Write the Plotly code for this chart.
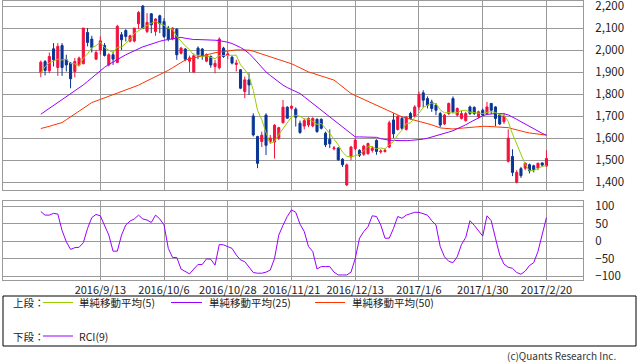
import plotly.graph_objects as go

dates = [
    "2016/8/24", "2016/8/25", "2016/8/26", "2016/8/29", "2016/8/30", "2016/8/31", "2016/9/1", "2016/9/2", "2016/9/5", "2016/9/6",
    "2016/9/7", "2016/9/8", "2016/9/9", "2016/9/12", "2016/9/13", "2016/9/14", "2016/9/15", "2016/9/16", "2016/9/20", "2016/9/21",
    "2016/9/23", "2016/9/26", "2016/9/27", "2016/9/28", "2016/9/29", "2016/9/30", "2016/10/3", "2016/10/4", "2016/10/5", "2016/10/6",
    "2016/10/7", "2016/10/11", "2016/10/12", "2016/10/13", "2016/10/14", "2016/10/17", "2016/10/18", "2016/10/19", "2016/10/20", "2016/10/21",
    "2016/10/24", "2016/10/25", "2016/10/26", "2016/10/27", "2016/10/28", "2016/10/31", "2016/11/1", "2016/11/2", "2016/11/4", "2016/11/7",
    "2016/11/8", "2016/11/9", "2016/11/10", "2016/11/11", "2016/11/14", "2016/11/15", "2016/11/16", "2016/11/17", "2016/11/18", "2016/11/21",
    "2016/11/22", "2016/11/24", "2016/11/25", "2016/11/28", "2016/11/29", "2016/11/30", "2016/12/1", "2016/12/2", "2016/12/5", "2016/12/6",
    "2016/12/7", "2016/12/8", "2016/12/9", "2016/12/12", "2016/12/13", "2016/12/14", "2016/12/15", "2016/12/16", "2016/12/19", "2016/12/20",
    "2016/12/21", "2016/12/22", "2016/12/26", "2016/12/27", "2016/12/28", "2016/12/29", "2016/12/30", "2017/1/4", "2017/1/5", "2017/1/6",
    "2017/1/10", "2017/1/11", "2017/1/12", "2017/1/13", "2017/1/16", "2017/1/17", "2017/1/18", "2017/1/19", "2017/1/20", "2017/1/23",
    "2017/1/24", "2017/1/25", "2017/1/26", "2017/1/27", "2017/1/30", "2017/1/31", "2017/2/1", "2017/2/2", "2017/2/3", "2017/2/6",
    "2017/2/7", "2017/2/8", "2017/2/9", "2017/2/10", "2017/2/13", "2017/2/14", "2017/2/15", "2017/2/16", "2017/2/17", "2017/2/20",
]

opens = [
    1898, 1948, 1906, 2006, 1921, 2021, 1956, 1941, 1903, 1933,
    1938, 2080, 2050, 1959, 2001, 2021, 1933, 1979, 1944, 2070,
    2089, 2041, 2041, 2120, 2200, 2085, 2165, 2085, 2156, 2130,
    2100, 2050, 2095, 1986, 2005, 1950, 1900, 2009, 2005, 1950,
    1971, 1926, 1920, 2009, 1976, 1968, 1935, 1911, 1812, 1865,
    1701, 1608, 1585, 1705, 1585, 1583, 1600, 1670, 1741, 1736,
    1732, 1668, 1655, 1660, 1656, 1686, 1686, 1623, 1595, 1552,
    1555, 1505, 1388, 1515, 1553, 1545, 1527, 1530, 1545, 1590,
    1538, 1540, 1560, 1683, 1640, 1690, 1640, 1712, 1700, 1742,
    1806, 1780, 1765, 1750, 1712, 1665, 1712, 1780, 1705, 1690,
    1680, 1742, 1740, 1697, 1727, 1712, 1758, 1742, 1705, 1675,
    1495, 1517, 1400, 1462, 1464, 1480, 1475, 1465, 1488, 1474,
]
highs = [
    1953, 1955, 1989, 2032, 2032, 2032, 1979, 1945, 1964, 1971,
    2100, 2100, 2065, 2001, 2062, 2032, 1986, 1994, 2115, 2082,
    2095, 2070, 2100, 2177, 2205, 2168, 2168, 2145, 2161, 2145,
    2110, 2103, 2100, 2015, 2009, 1975, 1985, 2017, 2009, 1985,
    1976, 1956, 2058, 2015, 1995, 1973, 1956, 1914, 1880, 1895,
    1713, 1611, 1630, 1713, 1615, 1664, 1652, 1774, 1745, 1750,
    1740, 1680, 1690, 1695, 1695, 1690, 1690, 1630, 1640, 1565,
    1560, 1510, 1485, 1565, 1600, 1550, 1570, 1580, 1565, 1595,
    1550, 1552, 1680, 1713, 1705, 1700, 1700, 1720, 1750, 1812,
    1818, 1790, 1775, 1760, 1720, 1710, 1762, 1790, 1740, 1725,
    1720, 1748, 1745, 1725, 1735, 1765, 1760, 1745, 1710, 1715,
    1640, 1550, 1455, 1470, 1490, 1485, 1480, 1490, 1490, 1545,
]
lows = [
    1877, 1885, 1895, 1926, 1883, 1883, 1903, 1827, 1877, 1926,
    1936, 2017, 1989, 1956, 1980, 1971, 1926, 1933, 1941, 2001,
    2039, 2035, 2035, 2095, 2095, 2077, 2077, 2065, 2077, 2055,
    2040, 2045, 1956, 1980, 1950, 1900, 1900, 1959, 1956, 1945,
    1920, 1895, 1912, 1965, 1960, 1935, 1903, 1823, 1782, 1797,
    1608, 1464, 1560, 1524, 1575, 1508, 1592, 1668, 1690, 1730,
    1653, 1620, 1640, 1650, 1650, 1625, 1640, 1560, 1555, 1545,
    1498, 1470, 1383, 1500, 1545, 1515, 1520, 1525, 1535, 1525,
    1530, 1535, 1555, 1600, 1635, 1638, 1635, 1685, 1695, 1727,
    1740, 1735, 1720, 1705, 1650, 1660, 1705, 1715, 1700, 1685,
    1675, 1705, 1705, 1690, 1700, 1705, 1710, 1655, 1660, 1665,
    1490, 1428, 1395, 1420, 1455, 1440, 1445, 1455, 1470, 1470,
]
closes = [
    1945, 1908, 1971, 1956, 2017, 1921, 1933, 1870, 1948, 1964,
    2100, 2035, 2012, 1989, 2042, 1976, 1979, 1959, 2108, 2047,
    2062, 2065, 2100, 2171, 2100, 2126, 2115, 2141, 2120, 2062,
    2050, 2100, 1979, 2009, 1959, 1965, 1975, 1979, 1971, 1980,
    1933, 1940, 2050, 1971, 1983, 1941, 1941, 1827, 1865, 1842,
    1615, 1486, 1614, 1568, 1600, 1659, 1648, 1741, 1691, 1745,
    1695, 1626, 1680, 1690, 1690, 1630, 1645, 1570, 1575, 1556,
    1502, 1480, 1479, 1560, 1591, 1523, 1564, 1576, 1555, 1540,
    1542, 1545, 1670, 1620, 1698, 1645, 1695, 1690, 1742, 1799,
    1773, 1750, 1735, 1727, 1660, 1705, 1758, 1720, 1735, 1712,
    1712, 1712, 1712, 1720, 1705, 1742, 1727, 1690, 1665, 1700,
    1600, 1445, 1445, 1430, 1487, 1452, 1458, 1486, 1478, 1508,
]

ma5 = [
    1897, 1925, 1942, 1950, 1959, 1955, 1960, 1939, 1938, 1927,
    1963, 1983, 2012, 2020, 2036, 2011, 2000, 1989, 2013, 2014,
    2031, 2048, 2076, 2089, 2100, 2112, 2122, 2131, 2120, 2113,
    2098, 2095, 2062, 2040, 2019, 2002, 1977, 1977, 1970, 1974,
    1968, 1961, 1975, 1975, 1975, 1977, 1977, 1933, 1911, 1883,
    1818, 1727, 1684, 1625, 1577, 1585, 1618, 1643, 1668, 1697,
    1704, 1700, 1687, 1687, 1676, 1663, 1667, 1645, 1622, 1595,
    1570, 1537, 1518, 1515, 1522, 1527, 1543, 1563, 1562, 1552,
    1556, 1552, 1571, 1584, 1616, 1636, 1666, 1670, 1694, 1714,
    1740, 1751, 1760, 1757, 1729, 1715, 1717, 1714, 1716, 1726,
    1727, 1718, 1717, 1714, 1712, 1718, 1721, 1717, 1706, 1705,
    1676, 1620, 1571, 1524, 1481, 1452, 1454, 1463, 1472, 1476,
]
ma25 = [
    1709, 1722, 1735, 1748, 1760, 1773, 1788, 1800, 1812, 1826,
    1842, 1858, 1875, 1892, 1909, 1922, 1935, 1947, 1958, 1970,
    1979, 1988, 1997, 2008, 2015, 2021, 2028, 2035, 2040, 2045,
    2049, 2053, 2056, 2058, 2054, 2050, 2048, 2048, 2048, 2047,
    2046, 2045, 2043, 2040, 2036, 2030, 2022, 2012, 2000, 1985,
    1965, 1944, 1922, 1901, 1885, 1870, 1855, 1841, 1830, 1820,
    1811, 1803, 1788, 1773, 1757, 1742, 1727, 1712, 1697, 1682,
    1667, 1652, 1636, 1621, 1606, 1606, 1606, 1606, 1606, 1604,
    1598, 1593, 1591, 1590, 1589, 1589, 1589, 1590, 1591, 1593,
    1596, 1600, 1605, 1610, 1616, 1622, 1628, 1634, 1642, 1651,
    1661, 1672, 1683, 1693, 1702, 1708, 1711, 1712, 1712, 1711,
    1706, 1697, 1686, 1675, 1664, 1653, 1642, 1632, 1622, 1614,
]
ma50 = [
    1644, 1648, 1654, 1660, 1665, 1671, 1684, 1697, 1710, 1723,
    1736, 1749, 1762, 1769, 1776, 1784, 1792, 1800, 1807, 1814,
    1821, 1826, 1832, 1841, 1851, 1860, 1869, 1878, 1887, 1896,
    1908, 1920, 1932, 1944, 1955, 1960, 1965, 1970, 1975, 1980,
    1985, 1988, 1991, 1994, 1997, 2000, 2001, 2001, 2000, 2000,
    1995, 1989, 1983, 1977, 1971, 1965, 1959, 1953, 1947, 1938,
    1929, 1919, 1910, 1901, 1895, 1889, 1882, 1876, 1870, 1864,
    1849, 1834, 1818, 1803, 1794, 1785, 1776, 1767, 1758, 1749,
    1740, 1730, 1721, 1712, 1704, 1697, 1692, 1687, 1683, 1679,
    1674, 1668, 1661, 1654, 1647, 1645, 1643, 1642, 1644, 1646,
    1648, 1650, 1652, 1653, 1654, 1654, 1653, 1653, 1652, 1651,
    1648, 1643, 1637, 1632, 1628, 1624, 1621, 1618, 1616, 1614,
]
rci9 = [
    84, 74, 74, 79, 77, 30, -2, -24, -19, -18,
    -5, 36, 67, 76, 72, 46, 17, -29, -29, 17,
    46, 57, 63, 74, 63, 60, 53, 74, 63, 46,
    -21, -47, -47, -80, -86, -94, -80, -67, -67, -51,
    -52, -69, -10, -11, -16, -21, -40, -54, -59, -76,
    -90, -92, -92, -89, -83, -50, 17, 45, 70, 89,
    82, 48, 27, -16, -30, -80, -73, -73, -73, -89,
    -97, -97, -97, -89, -50, 8, 27, 41, 72, 70,
    46, 8, 8, 36, 70, 65, 74, 78, 82, 82,
    79, 74, 58, 46, -16, -45, -58, -62, -45, -10,
    10, 58, 45, 28, 14, 72, 58, 8, -40, -66,
    -75, -78, -90, -95, -86, -70, -62, -30, 17, 67,
]

tick_labels = ["2016/9/13", "2016/10/6", "2016/10/28", "2016/11/21",
               "2016/12/13", "2017/1/6", "2017/1/30", "2017/2/20"]
price_ticks = [1400, 1500, 1600, 1700, 1800, 1900, 2000, 2100, 2200]
rci_ticks = [-100, -50, 0, 50, 100]

RED = "#f5103c"
BLUE = "#0a3596"
C_MA5 = "#99cc00"
C_MA25 = "#9900ff"
C_MA50 = "#ff3300"
C_RCI = "#9900ff"
GRID = "#9a9a9a"
FONT = "Noto Sans CJK JP"

W, H = 638, 362
ML, MR, MT, MB = 3, 55, 1, 82
PW = W - ML - MR
PH = H - MT - MB


def px(x):
    return (x - ML) / PW


def py(y):
    return (H - MB - y) / PH


fig = go.Figure()
fig.add_trace(go.Candlestick(
    x=dates, open=opens, high=highs, low=lows, close=closes,
    xaxis="x", yaxis="y", whiskerwidth=0,
    increasing=dict(line=dict(color=RED, width=1), fillcolor=RED),
    decreasing=dict(line=dict(color=BLUE, width=1), fillcolor=BLUE),
    showlegend=False,
))
for vals, col in [(ma50, C_MA50), (ma25, C_MA25), (ma5, C_MA5)]:
    fig.add_trace(go.Scatter(x=dates, y=vals, mode="lines", xaxis="x", yaxis="y",
                             line=dict(color=col, width=1), showlegend=False))
fig.add_trace(go.Scatter(x=dates, y=rci9, mode="lines", xaxis="x2", yaxis="y2",
                         line=dict(color=C_RCI, width=1), showlegend=False))

xcommon = dict(type="category", categoryorder="array", categoryarray=dates,
               range=[-8.9, 127.6], tickmode="array", tickvals=tick_labels,
               ticktext=tick_labels, showgrid=True, gridcolor=GRID, gridwidth=1,
               showline=True, mirror=True, linecolor=GRID, linewidth=1,
               ticks="", zeroline=False, tickangle=0, automargin=False)
ycommon = dict(side="right", tickmode="array", showgrid=True, gridcolor=GRID,
               gridwidth=1, showline=True, mirror=True, linecolor=GRID,
               linewidth=1, ticks="", ticklabelstandoff=9, zeroline=False,
               automargin=False, ticklabeloverflow="allow",
               tickfont=dict(size=11.5))

fig.update_layout(
    width=W, height=H,
    margin=dict(l=ML, r=MR, t=MT, b=MB, autoexpand=False),
    paper_bgcolor="white", plot_bgcolor="white",
    font=dict(family=FONT, size=12, color="#222222"),
    showlegend=False,
    xaxis=dict(**xcommon, domain=[0, 1], anchor="y", showticklabels=False,
               rangeslider=dict(visible=False)),
    yaxis=dict(**ycommon, domain=[py(190), 1], anchor="x",
               range=[1365, 2223], tickvals=price_ticks, tickformat=",d"),
    xaxis2=dict(**xcommon, domain=[0, 1], anchor="y2", showticklabels=True,
                tickfont=dict(size=11)),
    yaxis2=dict(**ycommon, domain=[0, py(201)], anchor="x2",
                range=[-111.4, 114.3], tickvals=rci_ticks),
)

shapes = [dict(type="rect", xref="paper", yref="paper",
               x0=px(3), x1=px(636), y0=py(346), y1=py(296),
               line=dict(color="black", width=1), fillcolor="rgba(0,0,0,0)")]
annotations = []
rows = [
    (302.5, "上段：", [(C_MA5, 43, 73, 77, "単純移動平均(5)"),
                    (C_MA25, 171, 202, 207, "単純移動平均(25)"),
                    (C_MA50, 315, 345, 350, "単純移動平均(50)")]),
    (336, "下段：", [(C_RCI, 43, 73, 77, "RCI(9)")]),
]
for yy, head, items in rows:
    annotations.append(dict(x=px(11), y=py(yy), xref="paper", yref="paper",
                            text=head, showarrow=False, xanchor="left",
                            yanchor="middle", font=dict(size=10.5, color="#222")))
    for col, lx0, lx1, tx, txt in items:
        shapes.append(dict(type="line", xref="paper", yref="paper",
                           x0=px(lx0), x1=px(lx1), y0=py(yy), y1=py(yy),
                           line=dict(color=col, width=1)))
        annotations.append(dict(x=px(tx), y=py(yy), xref="paper", yref="paper",
                                text=txt, showarrow=False, xanchor="left",
                                yanchor="middle", font=dict(size=10.5, color="#222")))
annotations.append(dict(x=px(618), y=py(355), xref="paper", yref="paper",
                        text="(c)Quants Research Inc.", showarrow=False,
                        xanchor="right", yanchor="middle",
                        font=dict(size=10, color="#333")))
fig.update_layout(shapes=shapes, annotations=annotations)

fig.write_html("out.html", config={"displayModeBar": False},
               post_script="document.body.style.margin='0';document.body.style.overflow='hidden';")
